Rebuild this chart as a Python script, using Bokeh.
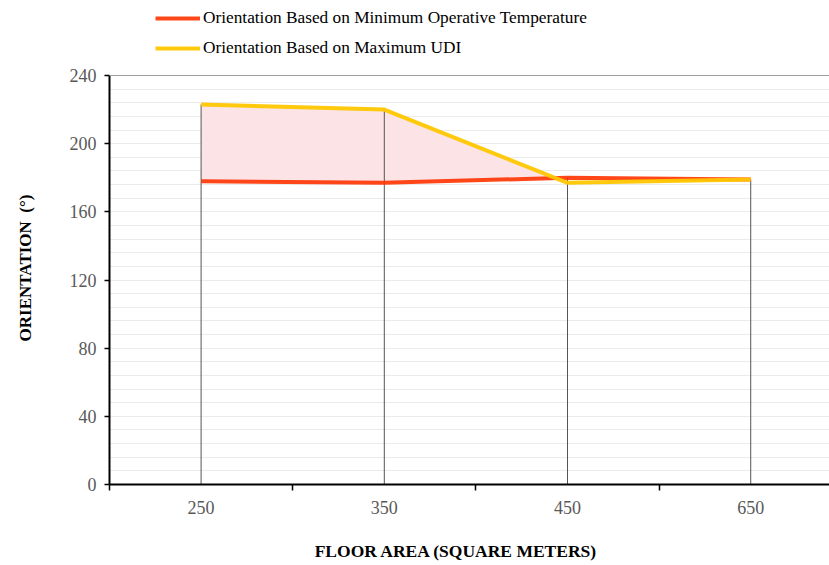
import numpy as np
from bokeh.plotting import figure
from bokeh.models import (Range1d, FixedTicker, Legend, LegendItem, Span)
from bokeh.embed import file_html
from bokeh.resources import INLINE

# ---- data ----
floor_areas = ["250", "350", "450", "650"]
min_operative_temp = [178, 177, 180, 179]
max_udi = [223, 220, 177, 179]
y_ticks = [0, 40, 80, 120, 160, 200, 240]

FONT = "Liberation Serif"
RED = "#FF3300"
YELLOW = "#FFC700"
NBSP = "\u00a0"

xs = np.arange(len(floor_areas)) + 0.5
red = np.array(min_operative_temp, dtype=float)
yel = np.array(max_udi, dtype=float)

sx, s1, s2 = [], [], []
for i in range(len(xs)):
    sx.append(xs[i]); s1.append(red[i]); s2.append(max(red[i], yel[i]))
    if i < len(xs) - 1:
        d0 = yel[i] - red[i]; d1 = yel[i + 1] - red[i + 1]
        if d0 * d1 < 0:
            t = d0 / (d0 - d1)
            xc = xs[i] + t * (xs[i + 1] - xs[i])
            rc = red[i] + t * (red[i + 1] - red[i])
            sx.append(xc); s1.append(rc); s2.append(rc)

y_max = y_ticks[-1]
# frame extends to the top of the canvas so the legend (drawn in the frame) is visible
p = figure(width=829, height=565, output_backend="svg", toolbar_location=None,
           x_range=Range1d(0, 3.93), y_range=Range1d(0, y_max * 484 / 409),
           min_border_left=109, min_border_right=0, min_border_top=0, min_border_bottom=81)
p.outline_line_color = None

p.xgrid.visible = False
grid_ticks = list(np.arange(0, y_max + 1, 8))
p.ygrid.ticker = FixedTicker(ticks=grid_ticks)
p.ygrid.grid_line_color = "#EBEBEB"
p.ygrid.grid_line_width = 1
p.add_layout(Span(location=y_max, dimension="width", line_color="#A0A0A0", line_width=1))

p.varea(x=sx, y1=s1, y2=s2, fill_color="#FCE3E6", fill_alpha=1.0)
p.segment(x0=xs, y0=np.zeros(len(xs)), x1=xs, y1=np.maximum(red, yel),
          line_color="#555555", line_width=1)

r_red = p.line(xs, red, line_color=RED, line_width=4, line_alpha=0.9)
r_yel = p.line(xs, yel, line_color=YELLOW, line_width=4, line_alpha=0.95)

xa = p.xaxis[0]
xa.ticker = FixedTicker(ticks=list(xs), minor_ticks=list(np.arange(len(floor_areas) + 1)))
xa.major_label_overrides = {float(x): lab for x, lab in zip(xs, floor_areas)}
xa.major_tick_out = 0
xa.major_tick_in = 0
xa.minor_tick_out = 6
xa.minor_tick_in = 0
xa.minor_tick_line_color = "black"
xa.minor_tick_line_width = 1.5
xa.axis_line_color = "black"
xa.axis_line_width = 2
xa.major_label_text_font = FONT
xa.major_label_text_font_size = "18px"
xa.major_label_text_color = "#595959"
xa.major_label_standoff = 10
xa.axis_label = "FLOOR AREA (SQUARE METERS)" + NBSP * 6
xa.axis_label_text_font = FONT
xa.axis_label_text_font_size = "17.5px"
xa.axis_label_text_font_style = "bold"
xa.axis_label_text_color = "black"
xa.axis_label_standoff = 24

ya = p.yaxis[0]
ya.ticker = FixedTicker(ticks=y_ticks)
ya.bounds = (y_ticks[0], y_max)
ya.minor_tick_line_color = None
ya.major_tick_out = 5
ya.major_tick_in = 0
ya.major_tick_line_color = "black"
ya.major_tick_line_width = 1.5
ya.axis_line_color = "black"
ya.axis_line_width = 2
ya.major_label_text_font = FONT
ya.major_label_text_font_size = "18px"
ya.major_label_text_color = "#595959"
ya.major_label_standoff = 8
ya.axis_label = "ORIENTATION" + NBSP + " (°)" + NBSP * 12
ya.axis_label_text_font = FONT
ya.axis_label_text_font_size = "17px"
ya.axis_label_text_font_style = "bold"
ya.axis_label_text_color = "black"
ya.axis_label_standoff = 32

legend = Legend(items=[
    LegendItem(label="Orientation Based on Minimum Operative Temperature", renderers=[r_red]),
    LegendItem(label="Orientation Based on Maximum UDI", renderers=[r_yel]),
], location=(46, 426), orientation="vertical")
legend.label_text_font = FONT
legend.label_text_font_size = "17.3px"
legend.label_text_color = "black"
legend.glyph_width = 45
legend.glyph_height = 20
legend.label_height = 20
legend.spacing = 10
legend.padding = 0
legend.margin = 0
legend.label_standoff = 3
legend.border_line_color = None
legend.background_fill_alpha = 0
p.add_layout(legend, "center")

open("out.html", "w").write(file_html(p, INLINE))
